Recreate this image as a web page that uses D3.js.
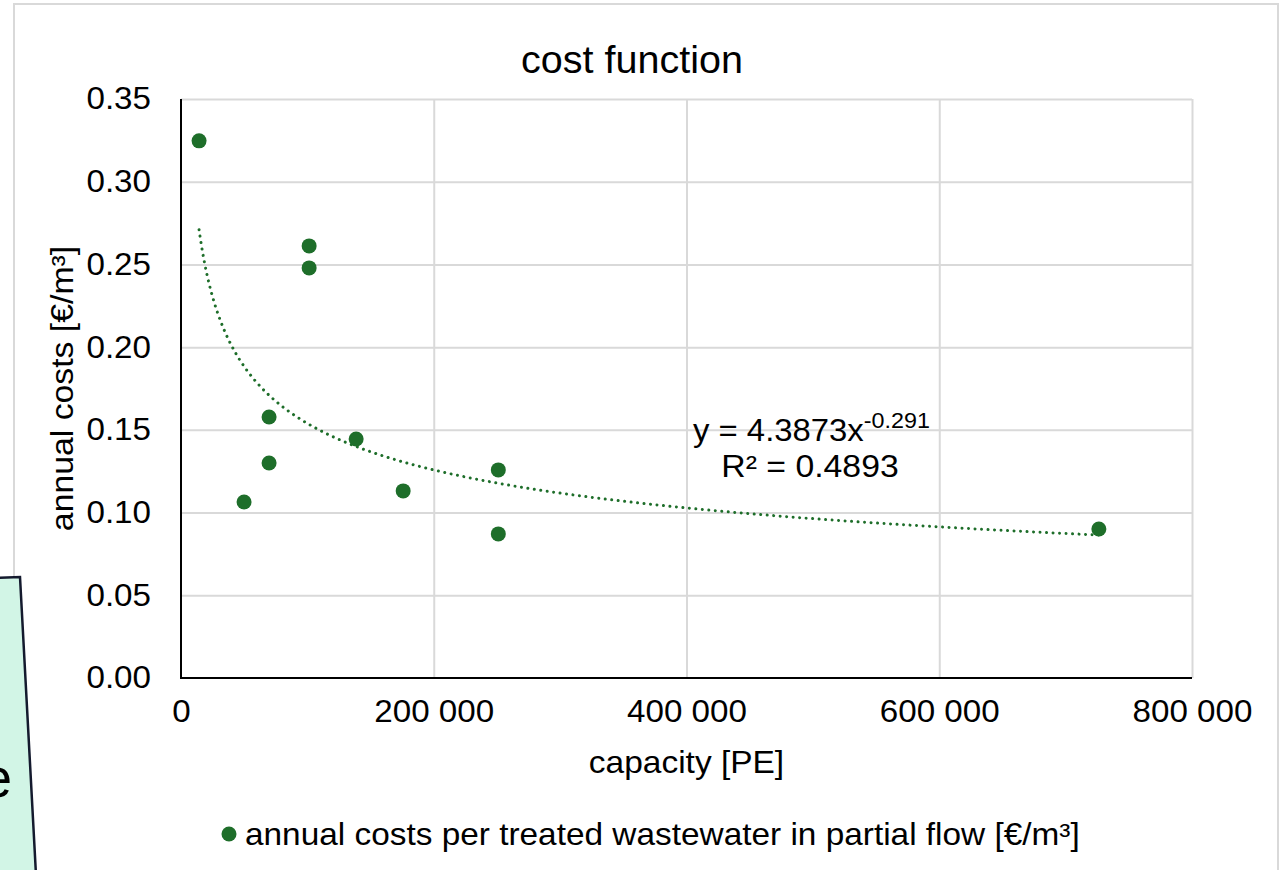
<!DOCTYPE html>
<html>
<head>
<meta charset="utf-8">
<script src="https://cdn.jsdelivr.net/npm/d3@7"></script>
<style>
  html, body { margin: 0; padding: 0; background: #fff; }
  svg { display: block; font-family: "Liberation Sans", Arial, sans-serif; }
</style>
</head>
<body>
<svg id="chart" width="1281" height="870"></svg>
<script>
// Plant capacity in population equivalents and annual cost per m³
const capacity = [14300, 101400, 101400, 69700, 69700, 49900, 138600, 175800, 251100, 251100, 726300];
const annualCost = [0.3247, 0.2612, 0.2479, 0.1578, 0.1300, 0.1064, 0.1445, 0.1131, 0.1258, 0.0871, 0.0901];

// Power-law trend y = a·x^b as stated on the chart
const trendCoef = [4.3873, -0.291];
const trendLabel = ["y = 4.3873x", "-0.291", "R² = 0.4893"];

const xTicks = [0, 200000, 400000, 600000, 800000];
const yTicks = [0, 0.05, 0.10, 0.15, 0.20, 0.25, 0.30, 0.35];

const titleText = "cost function";
const xTitle = "capacity [PE]";
const yTitle = "annual costs [€/m³]";
const legendText = "annual costs per treated wastewater in partial flow [€/m³]";

const green = "#1e6e2a";
const gridColor = "#d9d9d9";
const WIDE = 1.07;   // slightly widened glyphs

const svg = d3.select("#chart");

// Outer chart frame
svg.append("rect")
  .attr("x", 14).attr("y", 4).attr("width", 1264).attr("height", 880)
  .attr("fill", "#fff").attr("stroke", gridColor).attr("stroke-width", 2);

const plot = { left: 181, right: 1192, top: 99, bottom: 678 };

const x = d3.scaleLinear().domain([0, 800000]).range([plot.left, plot.right]);
const y = d3.scaleLinear().domain([0, 0.35]).range([plot.bottom, plot.top]);

const fmtX = v => v === 0 ? "0" : d3.format(",")(v).replace(/,/g, " ");
const fmtY = d3.format(".2f");

// Text placed at (tx, ty) with widened glyphs
function label(tx, ty, size, txt, anchor, sx) {
  return svg.append("text")
    .attr("transform", `translate(${tx},${ty}) scale(${sx || WIDE},1)`)
    .attr("text-anchor", anchor || "start")
    .attr("font-size", size).attr("fill", "#000").text(txt);
}

// Horizontal gridlines
svg.append("g")
  .attr("transform", `translate(${plot.left},0)`)
  .call(d3.axisLeft(y).tickValues(yTicks.slice(1)).tickSize(-(plot.right - plot.left)).tickFormat(""))
  .call(g => g.select(".domain").remove())
  .call(g => g.selectAll("line").attr("stroke", gridColor).attr("stroke-width", 2));

// Vertical gridlines
svg.append("g")
  .attr("transform", `translate(0,${plot.bottom})`)
  .call(d3.axisBottom(x).tickValues(xTicks.slice(1)).tickSize(-(plot.bottom - plot.top)).tickFormat(""))
  .call(g => g.select(".domain").remove())
  .call(g => g.selectAll("line").attr("stroke", gridColor).attr("stroke-width", 2));

// Y axis labels
svg.append("g")
  .attr("transform", `translate(${plot.left},0)`)
  .call(d3.axisLeft(y).tickValues(yTicks).tickSize(0).tickPadding(30).tickFormat(fmtY))
  .call(g => g.select(".domain").remove())
  .call(g => g.selectAll("text")
    .attr("font-size", 31).attr("fill", "#000")
    .attr("font-family", "Liberation Sans, Arial, sans-serif")
    .attr("x", -30 / WIDE)
    .attr("transform", `scale(${WIDE},1)`));

// X axis labels
svg.append("g")
  .attr("transform", `translate(0,${plot.bottom})`)
  .call(d3.axisBottom(x).tickValues(xTicks).tickSize(0).tickPadding(22).tickFormat(fmtX))
  .call(g => g.select(".domain").remove())
  .call(g => g.selectAll("text")
    .attr("font-size", 31).attr("fill", "#000")
    .attr("font-family", "Liberation Sans, Arial, sans-serif")
    .attr("transform", `scale(${WIDE},1)`));

// Axis lines
svg.append("line")
  .attr("x1", plot.left).attr("x2", plot.left).attr("y1", plot.top).attr("y2", plot.bottom + 1)
  .attr("stroke", "#000").attr("stroke-width", 2);
svg.append("line")
  .attr("x1", plot.left - 1).attr("x2", plot.right).attr("y1", plot.bottom).attr("y2", plot.bottom)
  .attr("stroke", "#000").attr("stroke-width", 2);

// Trend line
const xs = d3.extent(capacity);
const trendPts = d3.range(0, 301).map(i => {
  const cx = Math.exp(Math.log(xs[0]) + (Math.log(xs[1]) - Math.log(xs[0])) * i / 300);
  return [cx, trendCoef[0] * Math.pow(cx, trendCoef[1])];
});
svg.append("path")
  .datum(trendPts)
  .attr("d", d3.line().x(d => x(d[0])).y(d => y(d[1])))
  .attr("fill", "none")
  .attr("stroke", green)
  .attr("stroke-width", 3)
  .attr("stroke-linecap", "round")
  .attr("stroke-dasharray", "0.01 6.5");

// Data points
svg.append("g").selectAll("circle")
  .data(capacity.map((c, i) => [c, annualCost[i]]))
  .join("circle")
  .attr("cx", d => x(d[0]))
  .attr("cy", d => y(d[1]))
  .attr("r", 7.5)
  .attr("fill", green);

// Trend equation
const eq = label(693, 441, 31, "", "start", 1.06);
eq.append("tspan").text(trendLabel[0]);
eq.append("tspan").attr("font-size", 22).attr("dy", -13).text(trendLabel[1]);
label(810, 477, 31, trendLabel[2], "middle", 1.09);

// Title
label(632, 73, 38, titleText, "middle", 1.04);

// Axis titles
label((plot.left + plot.right) / 2, 773, 31, xTitle, "middle", 1.08);
svg.append("text")
  .attr("transform", `translate(73,${(plot.top + plot.bottom) / 2}) rotate(-90) scale(1.09,1)`)
  .attr("text-anchor", "middle")
  .attr("font-size", 31).attr("fill", "#000").text(yTitle);

// Legend
svg.append("circle").attr("cx", 229).attr("cy", 834).attr("r", 7.5).attr("fill", green);
label(245, 845, 31, legendText, "start", 1.077);

// Overlapping note box at the lower left
svg.append("path")
  .attr("d", "M-10,578 L20,577 L36,875 L-10,875 Z")
  .attr("fill", "#d2f5e6").attr("stroke", "#141a2e").attr("stroke-width", 2.5);
svg.append("text")
  .attr("x", 12).attr("y", 797).attr("text-anchor", "end")
  .attr("font-size", 55).attr("fill", "#000").text("e");
</script>
</body>
</html>
